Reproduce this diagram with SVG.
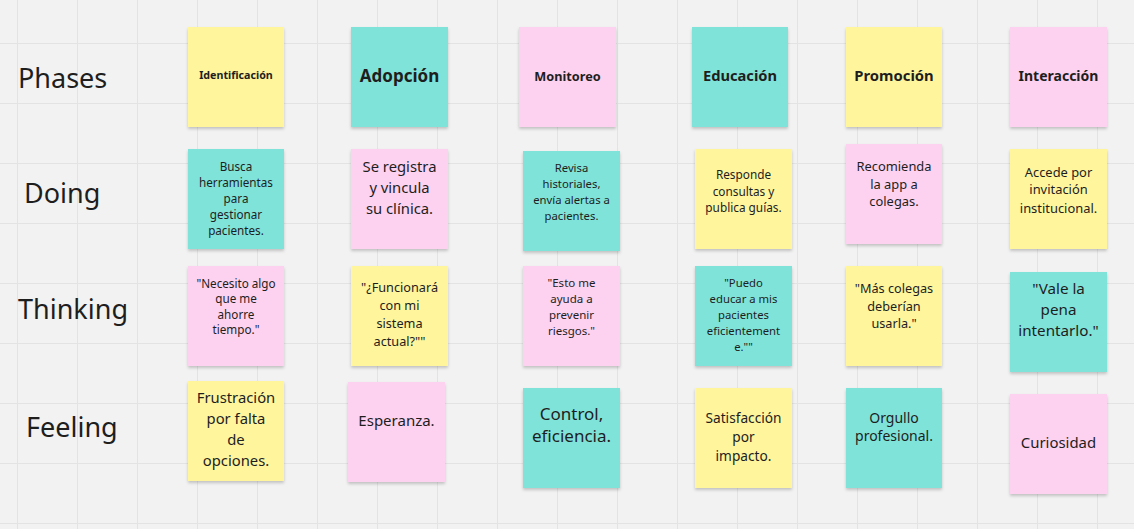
<svg xmlns="http://www.w3.org/2000/svg" width="1134" height="529" viewBox="0 0 1134 529">
<defs>
<pattern id="grid" x="17" y="43" width="60" height="60" patternUnits="userSpaceOnUse">
<path d="M0 0.5 H60 M0.5 0 V60" stroke="#e3e3e3" stroke-width="1" fill="none"/>
</pattern>
<filter id="sh" x="-10%" y="-10%" width="120%" height="130%">
<feDropShadow dx="0" dy="2" stdDeviation="1.6" flood-color="#000" flood-opacity="0.2"/>
</filter>
</defs>
<style>
.lbl{font-family:"Noto Sans","Open Sans",sans-serif;font-size:27px;fill:#1e1e1e}
.n rect{filter:url(#sh)}
.y rect{fill:#fff59d}
.t rect{fill:#7fe3d9}
.p rect{fill:#fdd2f0}
.n text{font-family:"Noto Sans","Open Sans",sans-serif;fill:#1e1e1e;text-anchor:middle}
.h text{font-weight:bold}
</style>
<rect width="1134" height="529" fill="#f2f2f2"/>
<rect width="1134" height="529" fill="url(#grid)"/>

<g id="row-labels">
<text class="lbl" x="18" y="88">Phases</text>
<text class="lbl" x="24" y="203">Doing</text>
<text class="lbl" x="18" y="319">Thinking</text>
<text class="lbl" x="26" y="437">Feeling</text>
</g>

<g id="connectors"/>

<!-- Phases -->
<g id="phase-identificacion" class="n y h"><rect x="188" y="27" width="96" height="100"/><text x="236" y="78.5" font-size="10.7">Identificación</text></g>
<g id="phase-adopcion" class="n t h"><rect x="351" y="27" width="97" height="100"/><text x="399.5" y="82" font-size="17">Adopción</text></g>
<g id="phase-monitoreo" class="n p h"><rect x="519" y="27" width="97" height="100"/><text x="567.5" y="80.7" font-size="12.7">Monitoreo</text></g>
<g id="phase-educacion" class="n t h"><rect x="692" y="27" width="96" height="100"/><text x="740" y="80.5" font-size="14.7">Educación</text></g>
<g id="phase-promocion" class="n y h"><rect x="846" y="27" width="96" height="100"/><text x="894" y="81" font-size="14.8">Promoción</text></g>
<g id="phase-interaccion" class="n p h"><rect x="1010" y="27" width="97" height="100"/><text x="1058.5" y="80.5" font-size="14">Interacción</text></g>

<!-- Doing -->
<g id="doing-1" class="n t"><rect x="188" y="149" width="96" height="100"/><text font-size="11.7"><tspan x="236" y="170.7">Busca</tspan><tspan x="236" y="186.7">herramientas</tspan><tspan x="236" y="202.7">para</tspan><tspan x="236" y="218.7">gestionar</tspan><tspan x="236" y="234.7">pacientes.</tspan></text></g>
<g id="doing-2" class="n p"><rect x="351" y="149" width="97" height="100"/><text font-size="14.8"><tspan x="399.5" y="171.5">Se registra</tspan><tspan x="399.5" y="192.5">y vincula</tspan><tspan x="399.5" y="213.5">su clínica.</tspan></text></g>
<g id="doing-3" class="n t"><rect x="523" y="151" width="97" height="100"/><text font-size="11.3"><tspan x="571.5" y="172">Revisa</tspan><tspan x="571.5" y="188">historiales,</tspan><tspan x="571.5" y="204">envía alertas a</tspan><tspan x="571.5" y="220">pacientes.</tspan></text></g>
<g id="doing-4" class="n y"><rect x="695" y="149" width="97" height="100"/><text font-size="11.8"><tspan x="743.5" y="179">Responde</tspan><tspan x="743.5" y="195.5">consultas y</tspan><tspan x="743.5" y="212">publica guías.</tspan></text></g>
<g id="doing-5" class="n p"><rect x="846" y="144" width="96" height="100"/><text font-size="12.9"><tspan x="894" y="170.5">Recomienda</tspan><tspan x="894" y="188.5">la app a</tspan><tspan x="894" y="206">colegas.</tspan></text></g>
<g id="doing-6" class="n y"><rect x="1010" y="149" width="97" height="100"/><text font-size="12.9"><tspan x="1058.5" y="176.5">Accede por</tspan><tspan x="1058.5" y="194">invitación</tspan><tspan x="1058.5" y="212.5">institucional.</tspan></text></g>

<!-- Thinking -->
<g id="thinking-1" class="n p"><rect x="188" y="266" width="96" height="100"/><text font-size="11.7"><tspan x="236" y="287.7">"Necesito algo</tspan><tspan x="236" y="303.2">que me</tspan><tspan x="236" y="318.7">ahorre</tspan><tspan x="236" y="334.4">tiempo."</tspan></text></g>
<g id="thinking-2" class="n y"><rect x="351" y="266" width="97" height="100"/><text font-size="12.7"><tspan x="399.5" y="292">"¿Funcionará</tspan><tspan x="399.5" y="310">con mi</tspan><tspan x="399.5" y="328">sistema</tspan><tspan x="399.5" y="346">actual?""</tspan></text></g>
<g id="thinking-3" class="n p"><rect x="523" y="266" width="97" height="100"/><text font-size="11.5"><tspan x="571.5" y="286.7">"Esto me</tspan><tspan x="571.5" y="302.7">ayuda a</tspan><tspan x="571.5" y="318.7">prevenir</tspan><tspan x="571.5" y="334.7">riesgos."</tspan></text></g>
<g id="thinking-4" class="n t"><rect x="695" y="266" width="97" height="100"/><text font-size="11.3"><tspan x="743.5" y="286.7">"Puedo</tspan><tspan x="743.5" y="302.7">educar a mis</tspan><tspan x="743.5" y="318.7">pacientes</tspan><tspan x="743.5" y="334.7">eficientement</tspan><tspan x="743.5" y="350.7">e.""</tspan></text></g>
<g id="thinking-5" class="n y"><rect x="846" y="266" width="96" height="100"/><text font-size="12.7"><tspan x="894" y="293">"Más colegas</tspan><tspan x="894" y="310.7">deberían</tspan><tspan x="894" y="328">usarla."</tspan></text></g>
<g id="thinking-6" class="n t"><rect x="1010" y="272" width="97" height="100"/><text font-size="15.2"><tspan x="1058.5" y="294">"Vale la</tspan><tspan x="1058.5" y="315">pena</tspan><tspan x="1058.5" y="336">intentarlo."</tspan></text></g>

<!-- Feeling -->
<g id="feeling-1" class="n y"><rect x="188" y="381" width="96" height="100"/><text font-size="14.8"><tspan x="236" y="402.8">Frustración</tspan><tspan x="236" y="423.8">por falta</tspan><tspan x="236" y="444.8">de</tspan><tspan x="236" y="465.8">opciones.</tspan></text></g>
<g id="feeling-2" class="n p"><rect x="348" y="382" width="97" height="100"/><text font-size="15" x="396.5" y="425.5">Esperanza.</text></g>
<g id="feeling-3" class="n t"><rect x="523" y="388" width="97" height="100"/><text font-size="17"><tspan x="571.5" y="420.4">Control,</tspan><tspan x="571.5" y="442">eficiencia.</tspan></text></g>
<g id="feeling-4" class="n y"><rect x="695" y="388" width="97" height="100"/><text font-size="13.7"><tspan x="743.5" y="422.5">Satisfacción</tspan><tspan x="743.5" y="441.8">por</tspan><tspan x="743.5" y="461">impacto.</tspan></text></g>
<g id="feeling-5" class="n t"><rect x="846" y="388" width="96" height="100"/><text font-size="14"><tspan x="894" y="422.5">Orgullo</tspan><tspan x="894" y="441.2">profesional.</tspan></text></g>
<g id="feeling-6" class="n p"><rect x="1010" y="394" width="97" height="100"/><text font-size="14.9" x="1058.5" y="447.5">Curiosidad</text></g>
</svg>
